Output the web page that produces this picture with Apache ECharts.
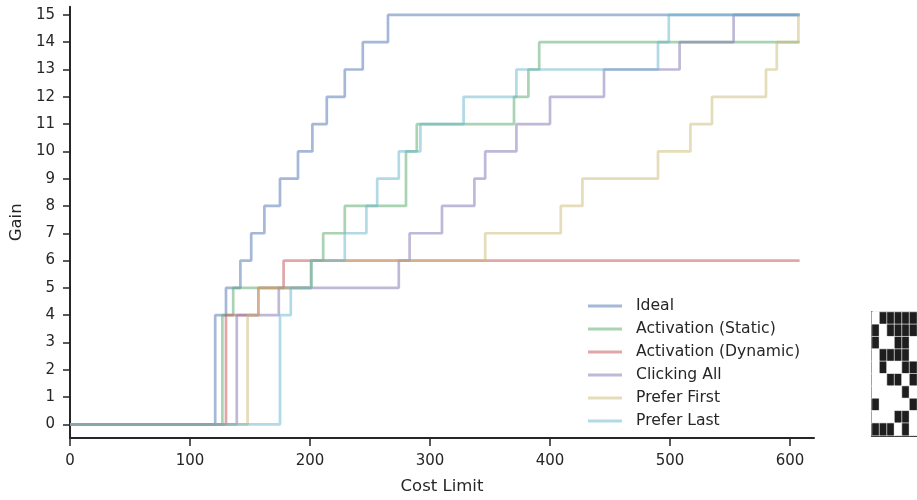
<!DOCTYPE html>
<html>
<head>
<meta charset="utf-8">
<script src="https://cdn.jsdelivr.net/npm/echarts@6/dist/echarts.min.js"></script>
<style>
html,body{margin:0;padding:0;background:#fff;}
#chart{width:917px;height:500px;}
</style>
</head>
<body>
<div id="chart"></div>
<script>
// ---- data ----
var seriesNames = ['Ideal', 'Activation (Static)', 'Activation (Dynamic)', 'Clicking All', 'Prefer First', 'Prefer Last'];

var idealX = [0, 121, 130, 142, 151, 162, 175, 190, 202, 214, 229, 244, 265, 608];
var idealY = [0, 4, 5, 6, 7, 8, 9, 10, 11, 12, 13, 14, 15, 15];

var staticX = [0, 127, 136, 201, 211, 229, 280, 289, 370, 382, 391, 608];
var staticY = [0, 4, 5, 6, 7, 8, 10, 11, 12, 13, 14, 14];

var dynamicX = [0, 130, 157, 178, 608];
var dynamicY = [0, 4, 5, 6, 6];

var clickAllX = [0, 139, 174, 274, 283, 310, 337, 346, 372, 400, 445, 508, 553, 608];
var clickAllY = [0, 4, 5, 6, 7, 8, 9, 10, 11, 12, 13, 14, 15, 15];

var firstX = [0, 148, 157, 201, 346, 409, 427, 490, 517, 535, 580, 589, 607, 608];
var firstY = [0, 4, 5, 6, 7, 8, 9, 10, 11, 12, 13, 14, 15, 15];

var lastX = [0, 175, 184, 201, 229, 247, 256, 274, 292, 328, 372, 490, 499, 608];
var lastY = [0, 4, 5, 6, 7, 8, 9, 10, 11, 12, 13, 14, 15, 15];

var xTicks = [0, 100, 200, 300, 400, 500, 600];
var yTicks = [0, 1, 2, 3, 4, 5, 6, 7, 8, 9, 10, 11, 12, 13, 14, 15];

// small black/white pattern at the bottom right (rows top to bottom)
var patternRows = [
  [0, 1, 1, 1, 1, 1],
  [1, 0, 1, 1, 1, 1],
  [1, 0, 0, 1, 1, 0],
  [0, 1, 1, 1, 1, 0],
  [0, 1, 0, 0, 1, 1],
  [0, 0, 1, 1, 0, 1],
  [0, 0, 0, 0, 1, 0],
  [1, 0, 0, 0, 0, 1],
  [0, 0, 0, 1, 1, 0],
  [1, 1, 1, 0, 1, 0]
];

// ---- build ----
var colors = [
  'rgba(76,114,176,0.5)',
  'rgba(85,168,104,0.5)',
  'rgba(196,78,82,0.5)',
  'rgba(129,114,178,0.5)',
  'rgba(204,185,116,0.5)',
  'rgba(100,181,205,0.5)'
];
var xsList = [idealX, staticX, dynamicX, clickAllX, firstX, lastX];
var ysList = [idealY, staticY, dynamicY, clickAllY, firstY, lastY];

function pts(xs, ys) { return xs.map(function (x, i) { return [x, ys[i]]; }); }

var FONT = 'DejaVu Sans';
var TXT = '#262626';

var series = seriesNames.map(function (n, i) {
  return {
    name: n,
    type: 'line',
    step: 'end',
    xAxisIndex: 0, yAxisIndex: 0,
    data: pts(xsList[i], ysList[i]),
    symbol: 'none',
    showSymbol: false,
    silent: true,
    lineStyle: { color: colors[i], width: 2.7 },
    itemStyle: { color: colors[i] },
    animation: false
  };
});

var heat = [];
patternRows.forEach(function (row, r) {
  row.forEach(function (v, c) { heat.push([c, r, v]); });
});
series.push({
  type: 'heatmap',
  xAxisIndex: 1, yAxisIndex: 1,
  data: heat,
  itemStyle: { borderColor: '#fff', borderWidth: 0.6 },
  silent: true,
  animation: false
});

var option = {
  backgroundColor: '#fff',
  animation: false,
  color: colors,
  grid: [
    { left: 69, top: 6.7, width: 745, height: 432.6, containLabel: false },
    { left: 872, top: 312, width: 6 * 8.4, height: 123.5, show: true, borderColor: '#cccccc', borderWidth: 1, containLabel: false }
  ],
  visualMap: {
    show: false, type: 'piecewise', seriesIndex: 6, dimension: 2,
    pieces: [{ value: 0, color: '#ffffff' }, { value: 1, color: '#1e1e1e' }]
  },
  legend: {
    data: seriesNames,
    orient: 'vertical',
    left: 583,
    top: 292,
    icon: 'rect',
    itemWidth: 34,
    itemHeight: 3,
    itemGap: 5,
    selectedMode: false,
    textStyle: { fontFamily: FONT, fontSize: 15.6, color: TXT, lineHeight: 18, padding: [0, 0, 0, 9] }
  },
  xAxis: [
    {
      type: 'value', gridIndex: 0, min: 0, max: 620,
      name: 'Cost Limit', nameLocation: 'middle', nameGap: 40,
      nameTextStyle: { fontFamily: FONT, fontSize: 16.5, color: TXT },
      axisLine: { show: true, onZero: false, lineStyle: { color: TXT, width: 2 } },
      axisTick: { show: true, length: 8, customValues: xTicks, lineStyle: { color: TXT, width: 1.5 } },
      axisLabel: { customValues: xTicks, fontFamily: FONT, fontSize: 15, color: TXT, margin: 16 },
      splitLine: { show: false }
    },
    {
      type: 'category', gridIndex: 1, data: patternRows[0].map(function (v, i) { return i; }),
      axisLine: { show: true, lineStyle: { color: '#222', width: 2 } },
      axisTick: { show: false }, axisLabel: { show: false }, splitLine: { show: false }
    }
  ],
  yAxis: [
    {
      type: 'value', gridIndex: 0, min: -0.5, max: 15.3,
      name: 'Gain', nameLocation: 'middle', nameGap: 44, nameRotate: 90,
      nameTextStyle: { fontFamily: FONT, fontSize: 16.5, color: TXT },
      axisLine: { show: true, onZero: false, lineStyle: { color: TXT, width: 2 } },
      axisTick: { show: true, length: 7, customValues: yTicks, lineStyle: { color: TXT, width: 1.5 } },
      axisLabel: { customValues: yTicks, fontFamily: FONT, fontSize: 15, color: TXT, margin: 15 },
      splitLine: { show: false }
    },
    {
      type: 'category', gridIndex: 1, inverse: true, data: patternRows.map(function (r, i) { return i; }),
      axisLine: { show: true, lineStyle: { color: '#222', width: 2 } },
      axisTick: { show: false }, axisLabel: { show: false }, splitLine: { show: false }
    }
  ],
  series: series
};

var chart = echarts.init(document.getElementById('chart'), null, { renderer: 'canvas' });
chart.setOption(option);
</script>
</body>
</html>
